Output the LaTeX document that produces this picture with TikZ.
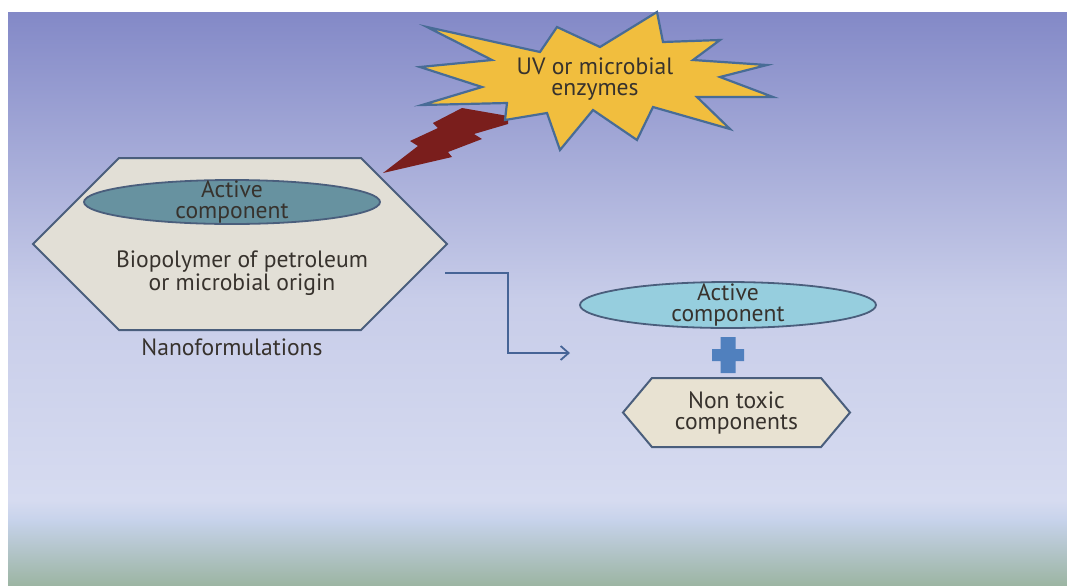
\documentclass[tikz,border=0pt]{standalone}
\usepackage{fontspec}
\setmainfont{PT Sans}
\usetikzlibrary{shapes.symbols, shapes.geometric, arrows.meta, positioning}

\definecolor{bgtop}{RGB}{131,137,199}
\definecolor{bgmid}{RGB}{200,205,233}
\definecolor{bglow}{RGB}{214,219,240}
\definecolor{bgband}{RGB}{198,210,234}
\definecolor{bgbot}{RGB}{156,181,163}
\definecolor{starfill}{RGB}{241,190,62}
\definecolor{starline}{RGB}{72,108,150}
\definecolor{boltred}{RGB}{122,30,28}
\definecolor{hexfill}{RGB}{226,223,214}
\definecolor{hexfilltwo}{RGB}{232,226,210}
\definecolor{hexline}{RGB}{74,94,124}
\definecolor{ovaldark}{RGB}{103,146,160}
\definecolor{ovallight}{RGB}{150,206,222}
\definecolor{plusblue}{RGB}{80,128,190}
\definecolor{flowline}{RGB}{70,100,150}
\definecolor{txtdark}{RGB}{55,50,45}

\begin{document}
\begin{tikzpicture}[x=0.5pt, y=-0.5pt,
    txt/.style   = {align=center, text=txtdark, inner sep=0pt,
                    font=\fontsize{11.8}{10.5}\selectfont},
    hexa/.style  = {signal, signal to=west and east, draw=hexline, line width=1pt,
                    inner sep=0pt},
    oval/.style  = {ellipse, draw=hexline, line width=0.9pt, inner sep=0pt,
                    minimum width=148pt, minimum height=22pt},
    flow/.style  = {draw=flowline, line width=0.9pt, -{Straight Barb[length=4pt,width=7pt]}}]

    \useasboundingbox (0,0) rectangle (1067,585);

    \shade[top color=bgtop,  bottom color=bgmid ] (8, 12) rectangle (1067,300);
    \shade[top color=bgmid,  bottom color=bglow ] (8,299) rectangle (1067,501);
    \shade[top color=bglow,  bottom color=bgband] (8,500) rectangle (1067,522);
    \shade[top color=bgband, bottom color=bgbot ] (8,521) rectangle (1067,585);

    \fill[boltred] (383,173) -- (418,146) -- (410,141) -- (438,128) -- (433,123)
                   -- (462,108) -- (508,116) -- (508,124) -- (474,134) -- (482,139)
                   -- (448,152) -- (452,157) -- cycle;

    \draw[fill=starfill, draw=starline, line width=1.1pt, line join=miter]
        (427,27) -- (540,52) -- (557,27) -- (600,47) -- (657,12) -- (663,42)
        -- (720,40) -- (693,60) -- (767,65) -- (720,77) -- (773,97) -- (697,97)
        -- (730,129) -- (653,107) -- (637,140) -- (593,110) -- (560,150) -- (547,113)
        -- (505,120) -- (507,103) -- (422,105) -- (482,87) -- (420,67) -- (492,60)
        -- cycle;
    \node[txt] (uv) at (595,79) {UV or microbial\\enzymes};

    \node[hexa, fill=hexfill, minimum width=207pt, minimum height=86pt,
          signal pointer angle=90] (nano) at (240,244) {};
    \node[oval, fill=ovaldark] (act1) at (232,202) {};
    \node[txt] (act1txt) at (act1) {Active\\component};
    \node[txt] (bio) at (242,273) {Biopolymer of petroleum\\or microbial origin};
    \node[txt] (nanotxt) at (232,347) {Nanoformulations};

    \path (445,273) node[coordinate] (arrS) {}
          (570,353) node[coordinate] (arrE) {};
    \draw[flow] (arrS) -- ++(63,0) |- (arrE);

    \node[oval, fill=ovallight, minimum height=23pt] (act2) at (728,305) {};
    \node[txt] (act2txt) at (act2) {Active\\component};

    \fill[plusblue] (720.5,337) rectangle (735.5,373)
                    (712,349) rectangle (744,361);

    \node[hexa, fill=hexfilltwo, minimum width=113.5pt, minimum height=34.5pt,
          signal pointer angle=100] (nontox) at (736.5,412.5) {};
    \node[txt] (nontoxtxt) at (nontox) {Non toxic\\components};

\end{tikzpicture}
\end{document}
